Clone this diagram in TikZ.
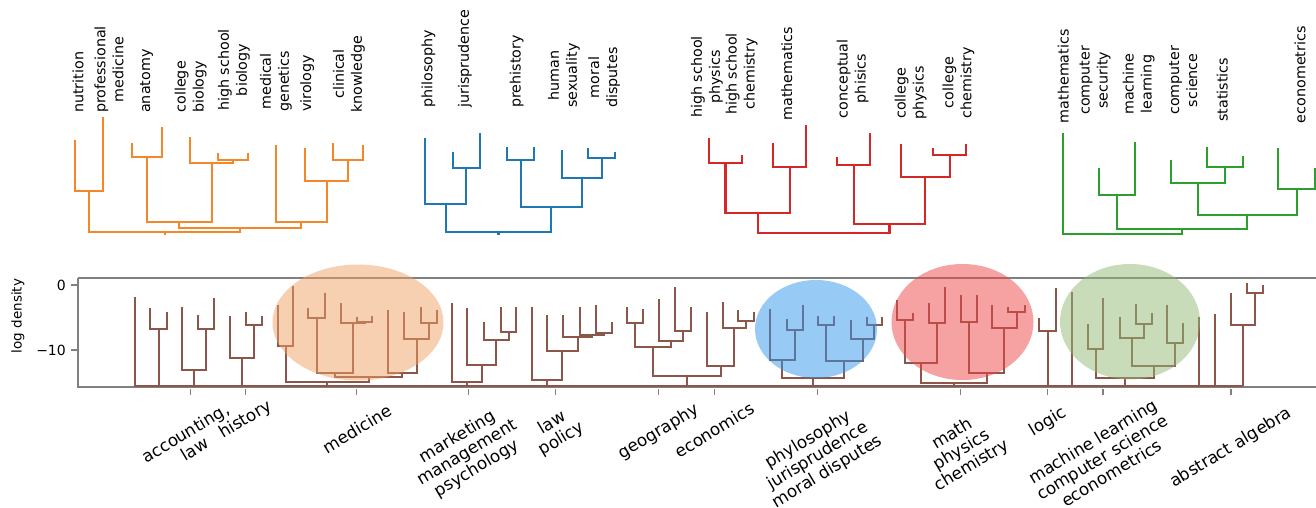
\documentclass[tikz,border=0pt]{standalone}
\usepackage{fontspec}
\setmainfont{DejaVu Sans}
\definecolor{tOrange}{RGB}{245,135,40}
\definecolor{tBlue}{RGB}{31,119,180}
\definecolor{tRed}{RGB}{214,39,40}
\definecolor{tGreen}{RGB}{44,160,44}
\definecolor{tBrown}{RGB}{140,86,75}
\definecolor{spine}{RGB}{128,128,128}
\definecolor{eOrange}{RGB}{240,160,100}
\definecolor{eBlue}{RGB}{50,150,238}
\definecolor{eRed}{RGB}{238,70,70}
\definecolor{eGreen}{RGB}{145,185,115}
\newcommand\dlink[5]{\draw (#1,#2) |- (#3,#5) -- (#3,#4);}
\newcommand\dstem[3]{\draw (#1,#2) -- (#1,#3);}
\begin{document}
\begin{tikzpicture}[x=1pt,y=-1pt,line join=miter,
  toplab/.style={rotate=90,anchor=west,align=center,inner sep=0pt,font=\fontsize{14.3}{18}\selectfont},
  botlab/.style={rotate=31,anchor=center,align=center,inner sep=0pt,font=\fontsize{16.8}{18.5}\selectfont},
  ticklab/.style={anchor=east,inner sep=0pt,font=\fontsize{14}{16}\selectfont},
  dend/.style={line width=2.2pt},
  bdend/.style={line width=2pt,tBrown},
  axline/.style={line width=1.8pt,spine},
  blob/.style={fill opacity=0.5}]
\useasboundingbox (0,0) rectangle (1316,507);

% ---------- top dendrograms ----------
\begin{scope}[dend,tOrange]
\dlink{75}{140}{103.3}{117}{191}
\dlink{131.7}{143}{161.7}{127}{157}
\dlink{218.3}{153}{248.3}{153}{160}
\dlink{190}{137}{233.3}{160}{163}
\dlink{146.7}{157}{211.7}{163}{222}
\dlink{333.3}{143}{363.3}{145}{160}
\dlink{305}{148}{348.3}{160}{181}
\dlink{276}{145}{326.7}{181}{222}
\dlink{179.2}{222}{301.3}{222}{228}
\dlink{89.2}{191}{240.3}{228}{232}
\dstem{164.7}{232}{235}
\end{scope}
\begin{scope}[dend,tBlue]
\dlink{452.7}{152}{480}{133}{168}
\dlink{425}{138}{466.3}{168}{204}
\dlink{507.3}{147}{534.3}{147}{160}
\dlink{588.3}{148}{615}{152}{158}
\dlink{561.7}{150}{601.7}{158}{178}
\dlink{520.8}{160}{581.7}{178}{207}
\dlink{445.7}{204}{551.2}{207}{232}
\dstem{498.5}{232}{235}
\end{scope}
\begin{scope}[dend,tRed]
\dlink{709.3}{138}{741.7}{155}{163}
\dlink{773.3}{143}{806}{125}{167}
\dlink{725.5}{163}{789.7}{167}{213}
\dlink{837.3}{157}{870}{133}{165}
\dlink{933.3}{148}{966}{144}{155}
\dlink{901}{144}{949.7}{155}{177}
\dlink{853.7}{165}{925.3}{177}{224}
\dlink{757.6}{213}{889.5}{224}{233}
\end{scope}
\begin{scope}[dend,tGreen]
\dlink{1099.3}{168}{1135}{142}{195}
\dlink{1207.3}{147}{1242.7}{156}{167}
\dlink{1171}{160}{1225}{167}{183}
\dlink{1278.3}{148}{1315}{168}{189}
\dlink{1198}{183}{1296.7}{189}{215}
\dlink{1117.2}{195}{1247.3}{215}{229}
\dlink{1062.7}{133}{1182.3}{229}{234}
\end{scope}

% top labels
\node[toplab] (l1) at (78,113) {nutrition};
\node[toplab] (l2) at (109,113) {professional\\medicine};
\node[toplab] (l3) at (146.7,113) {anatomy};
\node[toplab] (l4) at (190.7,113) {college\\biology};
\node[toplab] (l5) at (234,111) {high school\\biology};
\node[toplab] (l6) at (276,112) {medical\\genetics};
\node[toplab] (l7) at (307.3,112) {virology};
\node[toplab] (l8) at (349,113) {clinical\\knowledge};
\node[toplab] (l9) at (428.3,108) {philosophy};
\node[toplab] (l10) at (465,108) {jurisprudence};
\node[toplab] (l11) at (516.7,108) {prehistory};
\node[toplab] (l12) at (564,108) {human\\sexuality};
\node[toplab] (l13) at (604.2,108) {moral\\disputes};
\node[toplab] (l14) at (707,118) {high school\\physics};
\node[toplab] (l15) at (741.7,115) {high school\\chemistry};
\node[toplab] (l16) at (786.7,120.7) {mathematics};
\node[toplab] (l17) at (852.7,118.3) {conceptual\\phisics};
\node[toplab] (l18) at (910.7,120) {college\\physics};
\node[toplab] (l19) at (958.3,118.3) {college\\chemistry};
\node[toplab] (l20) at (1063.3,123.3) {mathematics};
\node[toplab] (l21) at (1095,115) {computer\\security};
\node[toplab] (l22) at (1138.7,115) {machine\\learning};
\node[toplab] (l23) at (1183.3,115) {computer\\science};
\node[toplab] (l24) at (1222.3,121.7) {statistics};
\node[toplab] (l25) at (1300,123.3) {econometrics};

% ---------- bottom panel ----------
\draw[axline] (78,278) -- (1316,278);
\draw[axline] (78,278) -- (78,387) -- (1316,387);
\draw[axline] (71,285) -- (78,285);
\draw[axline] (71,350) -- (78,350);
\node[ticklab] (t0) at (66,285) {0};
\node[ticklab] (t10) at (66,350) {−10};
\node[rotate=90,anchor=center,font=\fontsize{13.5}{15}\selectfont] (yl) at (18,316) {log density};
\foreach \t in {190.5,245.5,356.5,468.5,555.5,658.5,714.5,817.5,960.5,1047.5,1103,1231}
  \draw[line width=1.2pt,spine] (\t,389) -- (\t,395);

\begin{scope}[bdend]
% baseline and leftmost leaf
\draw (135,296.7) -- (135,386) -- (1242.7,386);
% B
\dlink{150}{308.3}{167.3}{311.7}{329.3}
\dstem{158.7}{329.3}{386}
% C
\dlink{198.3}{315}{214}{298.3}{329.3}
\dlink{181.7}{307.3}{206.2}{329.3}{370}
\dstem{194}{370}{386}
% D
\dlink{246}{311.7}{262.3}{316}{325}
\dlink{230}{316}{254.2}{325}{358.3}
\dstem{242.1}{358.3}{386}
% medicine
\dlink{278.3}{305}{293.3}{286}{346}
\dlink{308.3}{308.3}{325}{293.3}{318.3}
\dlink{357.3}{316.7}{371.7}{316}{321.7}
\dlink{340.7}{303.3}{364.5}{321.7}{323.3}
\dlink{316.7}{318.3}{352.6}{323.3}{373.3}
\dlink{420.7}{306.7}{436.7}{310}{322.7}
\dlink{404.3}{311.7}{428.7}{322.7}{339.3}
\dlink{388.3}{310}{416.5}{339.3}{373.3}
\dlink{334.7}{373.3}{402.4}{373.3}{377.3}
\dlink{285.8}{346}{368.5}{377.3}{381.7}
\dstem{327.2}{381.7}{386}
% E
\dlink{501}{307.3}{516}{307.3}{331.7}
\dlink{484.3}{321.7}{508.5}{331.7}{340}
\dlink{467.3}{308.3}{496.4}{340}{365}
\dlink{452.3}{303.3}{481.9}{365}{381.7}
\dstem{467.1}{381.7}{386}
% F
\dlink{595.7}{305}{611.7}{321.7}{333.3}
\dlink{580}{306.7}{603.7}{333.3}{334.5}
\dlink{563.3}{315}{591.8}{334.5}{336.7}
\dlink{547.3}{315}{577.5}{336.7}{351}
\dlink{531.7}{306.7}{562.4}{351}{380}
\dstem{547}{380}{386}
% G
\dlink{627.3}{306.7}{643.3}{309.3}{323.3}
\dlink{675}{287.3}{690.7}{306.7}{330.7}
\dlink{659.3}{299.3}{682.9}{330.7}{340.7}
\dlink{635.3}{323.3}{671.1}{340.7}{347.3}
\dlink{738.3}{310}{754}{311.7}{321}
\dlink{722.7}{301.7}{746.2}{321}{328.3}
\dlink{706.7}{311.7}{734.4}{328.3}{366}
\dlink{653.2}{347.3}{720.6}{366}{376}
\dstem{686.9}{376}{386}
% phylosophy
\dlink{786.7}{319.3}{802.7}{305}{330}
\dlink{770}{309.3}{794.7}{330}{360}
\dlink{818.3}{316}{834}{316}{325}
\dlink{866.7}{316.7}{881.7}{317.3}{325}
\dlink{850.7}{320}{874.2}{325}{339.3}
\dlink{826.2}{325}{862.5}{339.3}{360.7}
\dlink{782.4}{360}{844.4}{360.7}{378.3}
\dstem{813.4}{378.3}{386}
% math
\dlink{896.7}{300}{913.3}{313.3}{320}
\dlink{929.3}{303.3}{945}{287.3}{322.7}
\dlink{905}{320}{937.2}{322.7}{363.3}
\dlink{960.7}{295}{976.7}{295}{321.7}
\dlink{1008.3}{306.7}{1025}{305}{311.7}
\dlink{991.7}{305}{1016.7}{311.7}{328.3}
\dlink{968.7}{321.7}{1004.2}{328.3}{373.3}
\dlink{921.1}{363.3}{986.5}{373.3}{382.7}
\dstem{953.8}{382.7}{386}
% logic
\dlink{1039.3}{318.3}{1056}{288.3}{330.7}
\dstem{1047.7}{330.7}{386}
\dstem{1071.7}{291.7}{386}
% ml
\dlink{1088.3}{324}{1102.7}{298.3}{349.3}
\dlink{1136}{304}{1151.7}{313.3}{324}
\dlink{1120}{317.3}{1143.8}{324}{338.3}
\dlink{1166.7}{305}{1183.3}{323.3}{343.3}
\dlink{1131.9}{338.3}{1175}{343.3}{366}
\dlink{1095.5}{349.3}{1153.5}{366}{378.3}
\dstem{1124.5}{378.3}{386}
\dstem{1199.3}{316.7}{386}
\dstem{1215}{314}{386}
% abstract algebra
\dlink{1246.7}{283.3}{1262.7}{285}{292.7}
\dlink{1230.7}{293.3}{1254.7}{292.7}{325}
\dstem{1242.7}{325}{386}
\end{scope}

% highlight ellipses
\fill[blob,eOrange] (358,322.5) ellipse [x radius=85.5, y radius=58];
\fill[blob,eBlue] (816,329) ellipse [x radius=61, y radius=49];
\fill[blob,eRed] (962.5,322) ellipse [x radius=71, y radius=58];
\fill[blob,eGreen] (1130,321.7) ellipse [x radius=70, y radius=57.7];

% bottom labels
\node[botlab] (b1) at (190,441) {accounting,\\law};
\node[botlab] (b2) at (245.4,420) {history};
\node[botlab] (b3) at (357,429) {medicine};
\node[botlab] (b4) at (467.4,453) {marketing\\management\\psychology};
\node[botlab] (b5) at (557,431) {law\\policy};
\node[botlab] (b6) at (658.7,432) {geography};
\node[botlab] (b7) at (714.5,430) {economics};
\node[botlab] (b8) at (818,456) {phylosophy\\jurisprudence\\moral disputes};
\node[botlab] (b9) at (962,450) {math\\physics\\chemistry};
\node[botlab] (b10) at (1048,422) {logic};
\node[botlab] (b11) at (1102,457) {machine learning\\computer science\\econometrics};
\node[botlab] (b12) at (1231,448) {abstract algebra};
\end{tikzpicture}
\end{document}
